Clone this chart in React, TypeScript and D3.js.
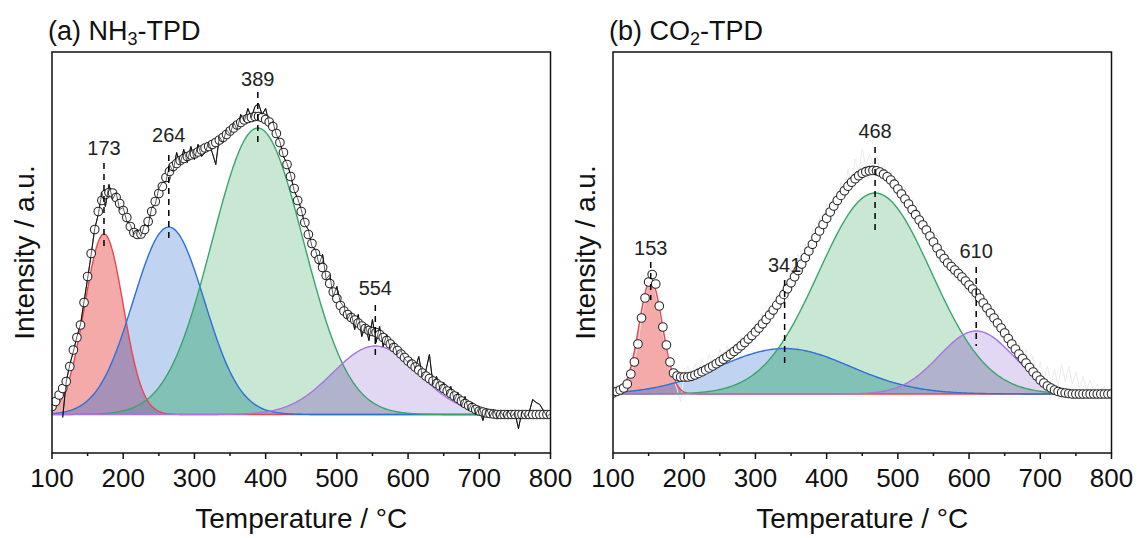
import React from "react";
import * as d3 from "d3";

const FONT = "'Liberation Sans', Arial, Helvetica, sans-serif";

// Temperature grid of the measured points (°C)
const tStart = 100;
const tStep = 5;

// ---------- (a) NH3-TPD ----------
// fitted Gaussian components: center °C, height a.u., sigma °C
const peakCentersA = [173, 264, 389, 554];
const peakHeightsA = [180.5, 187.5, 286.5, 68.5];
const peakWidthsA = [27, 50, 64, 60];
// cumulative fit (open circles) from 100 to 800 °C every 5 °C
const envelopeA = [
  8, 13, 19.5, 26, 33, 48, 64.5, 77, 89.5, 112, 138, 161, 185, 203, 214, 220, 222, 221.5, 217, 211,
  204, 197, 188, 182, 180, 180.5, 185, 193, 203, 213, 221, 228, 237, 243, 248, 251, 254, 256, 258, 259.5,
  260.5, 262.5, 264.5, 266.5, 268, 270, 272, 274.5, 277, 280, 283.5, 286.5, 289.5, 292, 294.5, 296, 297, 298, 298, 297,
  295, 292.5, 288, 281, 272, 262, 250, 238, 226, 214, 203, 192, 180, 171, 161, 155, 147, 139, 131, 122.5,
  116, 109, 103.5, 100, 97, 94.5, 91.5, 88.5, 86, 84, 83, 82, 80, 77, 74, 70.5, 67, 64, 60.5, 57,
  53.5, 50.5, 47.5, 44.5, 41.5, 38.5, 36, 33.5, 31, 28.5, 26, 23.5, 21, 18.5, 16, 13.5, 11, 9, 7, 5,
  3.5, 2.5, 1.5, 1, 0.5, 0, 0, 0, 0, 0, 0, 0, 0, 0, 0, 0, 0, 0, 0, 0, 0,
];
// raw signal (black line) from 115 to 800 °C every 5 °C
const rawStartA = 115;
const rawA = [
  -3, 33, 50, 63, 78, 90, 113, 136, 160, 186, 200, 222, 208, 230, 215, 222, 205, 207, 193, 190,
  180, 185, 178, 190, 188, 207, 210, 226, 232, 233, 250, 243, 262, 250, 265, 252, 268, 255, 270, 258,
  262, 272, 262, 250, 278, 272, 285, 280, 292, 285, 300, 293, 306, 297, 308, 311, 300, 306, 290, 293,
  280, 273, 258, 251, 240, 224, 216, 205, 190, 185, 168, 165, 150, 160, 135, 140, 118, 128, 112, 108,
  95, 102, 85, 100, 78, 90, 74, 95, 72, 88, 68, 80, 66, 72, 60, 64, 56, 52, 55, 46,
  58, 38, 44, 60, 30, 38, 25, 32, 20, 28, 14, 22, 8, 18, 4, 12, 0, 8, -6, 6,
  -2, 5, -4, 3, -3, 4, -2, 2, -14, 3, -3, 2, 15, 12, 10, 4, -2, 1,
];
const labelYA = [259.5, 272.5, 328.5, 119.5];
const dashTopA = [251.5, 259.5, 322.5, 109.5];
const dashBottomA = [164.5, 174.5, 271.5, 57.5];

// ---------- (b) CO2-TPD ----------
const peakCentersB = [153, 341, 468, 610];
const peakHeightsB = [113.5, 45.5, 201, 63];
const peakWidthsB = [16.5, 92, 79, 52];
const envelopeB = [
  1, 2.5, 4, 6, 10, 20, 32, 50, 76, 96, 112, 119.5, 110, 88, 67, 49, 32, 21, 18, 17,
  17, 17, 17.7, 19, 20.6, 22.3, 24.1, 26, 28, 30.2, 32.4, 34.8, 37.2, 39.8, 42.5, 45.3, 48.3, 51.5, 54.9, 58.4,
  62.1, 66, 70.2, 74.5, 79.1, 83.9, 88.9, 94.2, 99.6, 105.3, 111.2, 117.3, 123.5, 129.9, 136.4, 143, 149.7, 156.4, 163, 169.5,
  175.8, 182, 188, 193.5, 198.6, 203.3, 207.8, 211.8, 215.3, 218.3, 220.7, 222.3, 223.3, 223.6, 223.2, 221.9, 219.8, 217.2, 214, 209.8,
  205, 200, 195, 190, 184.5, 179.3, 174, 169, 164, 158, 152, 146, 140, 135.5, 131, 127.5, 124, 120.5, 117, 113,
  109, 105, 101, 96, 91, 86, 81, 76, 71, 66, 61, 55.5, 50, 45, 40, 35.5, 31, 26.5, 22, 18,
  14, 11, 8, 6, 4, 2.5, 1.5, 1, 0.5, 0, 0, 0, 0, 0, 0, 0, 0, 0, 0, 0, 0,
];
const rawStartB = 120;
const rawB = [
  12, 18, 35, 48, 78, 94, 115, 117, 100, 85, 60, 45, 25, 15, 5, -8, 20, 28, 15, 30,
  22, 35, 26, 40, 30, 25, 45, 33, 48, 36, 50, 40, 58, 47, 62, 52, 72, 60, 80, 68,
  90, 75, 100, 86, 110, 98, 125, 108, 140, 120, 150, 135, 165, 148, 178, 160, 190, 175, 200, 188,
  212, 200, 225, 210, 235, 222, 245, 226, 240, 230, 238, 224, 230, 215, 225, 205, 212, 195, 205, 185,
  195, 172, 185, 160, 175, 152, 165, 140, 150, 128, 140, 118, 130, 110, 122, 100, 112, 92, 105, 85,
  95, 76, 88, 66, 78, 55, 68, 45, 58, 38, 52, 30, 45, 22, 38, 18, 32, 14, 28, 10,
  25, 8, 30, 12, 28, 10, 22, 6, 18, 4, 14, 2, 10, 0, 8, -2, 5,
];
const labelYB = [139, 122, 256, 136];
const dashTopB = [132, 114, 247, 127];
const dashBottomB = [94, 31, 162, 48];

const xTicks = d3.range(100, 801, 50);
const peakStroke = ["#e8474c", "#2f6fd8", "#3aa56b", "#a874e0"];
const peakFill = ["#f5aaaa", "#c0d4f2", "#c8e8d4", "#e3d8f3"];
// colours where components overlap (sets of component indices)
const overlapSets = [[0, 1], [0, 2], [1, 2], [1, 3], [2, 3], [0, 3], [0, 1, 2], [1, 2, 3]];
const overlapFill = ["#a891b6", "#9c97ac", "#82c1b6", "#aaaadc", "#b1b3cd", "#c2a6c8", "#8e8faa", "#94a6c2"];

type PanelProps = {
  id: string;
  left: number;
  letter: string;
  mol1: string;
  sub: string;
  baseline: number; // pixel row of zero intensity
  centers: number[];
  heights: number[];
  widths: number[];
  envelope: number[];
  raw: number[];
  rawStart: number;
  rawColor: string;
  labelY: number[];
  dashTop: number[];
  dashBottom: number[];
};

const PLOT_W = 498.5;
const TOP = 52;
const BOTTOM = 453;

function Panel(p: PanelProps) {
  const x = d3.scaleLinear().domain([100, 800]).range([p.left, p.left + PLOT_W]);
  const y = d3
    .scaleLinear()
    .domain([p.baseline - BOTTOM, p.baseline - TOP])
    .range([BOTTOM, TOP]);
  const grid = d3.range(100, 800.01, 2);
  const gauss = (i: number, t: number) =>
    p.heights[i] * Math.exp(-0.5 * Math.pow((t - p.centers[i]) / p.widths[i], 2));
  const areaOf = (set: number[]) =>
    d3
      .area<number>()
      .x((t) => x(t))
      .y0(y(0))
      .y1((t) => y(d3.min(set, (i) => gauss(i, t)) as number))(grid) as string;
  const line = (i: number) =>
    d3
      .line<number>()
      .x((t) => x(t))
      .y((t) => y(gauss(i, t)))(grid) as string;
  const rawLine = d3
    .line<number>()
    .x((_, k) => x(p.rawStart + k * tStep))
    .y((v) => y(v))(p.raw) as string;
  const clipId = `clip-${p.id}`;
  return (
    <g>
      <defs>
        <clipPath id={clipId}>
          <rect x={p.left} y={TOP} width={PLOT_W} height={BOTTOM - TOP} />
        </clipPath>
      </defs>
      <g clipPath={`url(#${clipId})`}>
        {p.centers.map((_, i) => (
          <path key={`f${i}`} d={areaOf([i])} fill={peakFill[i]} />
        ))}
        {overlapSets.map((s, k) => (
          <path key={`o${k}`} d={areaOf(s)} fill={overlapFill[k]} />
        ))}
        {p.id === "b" && <path d={rawLine} fill="none" stroke={p.rawColor} strokeWidth={1} />}
        {p.centers.map((_, i) => (
          <path key={`l${i}`} d={line(i)} fill="none" stroke={peakStroke[i]} strokeWidth={1.4} />
        ))}
        {p.id === "a" && <path d={rawLine} fill="none" stroke="#111" strokeWidth={1} />}
        {p.envelope.map((v, k) => (
          <circle
            key={`c${k}`}
            cx={x(tStart + k * tStep)}
            cy={y(v)}
            r={4.3}
            fill="#fff"
            stroke="#2a2a2a"
            strokeWidth={1.1}
          />
        ))}
        {p.id === "a" && (
          <path d={rawLine} fill="none" stroke="#111" strokeWidth={0.9} strokeOpacity={0.75} />
        )}
      </g>
      {p.centers.map((c, i) => (
        <g key={`lab${i}`}>
          <line
            x1={x(c)}
            x2={x(c)}
            y1={y(p.dashTop[i])}
            y2={y(p.dashBottom[i])}
            stroke="#000"
            strokeWidth={1.5}
            strokeDasharray="6,5"
          />
          <text
            x={x(c)}
            y={y(p.labelY[i])}
            textAnchor="middle"
            fontFamily={FONT}
            fontSize={20}
            fill="#222"
          >
            {c}
          </text>
        </g>
      ))}
      <rect
        x={p.left}
        y={TOP}
        width={PLOT_W}
        height={BOTTOM - TOP}
        fill="none"
        stroke="#111"
        strokeWidth={1.5}
      />
      {xTicks.map((t) => (
        <line
          key={`t${t}`}
          x1={x(t)}
          x2={x(t)}
          y1={BOTTOM}
          y2={BOTTOM + (t % 100 === 0 ? 6 : 3)}
          stroke="#111"
          strokeWidth={1.5}
        />
      ))}
      {xTicks
        .filter((t) => t % 100 === 0)
        .map((t) => (
          <text
            key={`tl${t}`}
            x={x(t)}
            y={487}
            textAnchor="middle"
            fontFamily={FONT}
            fontSize={26}
            fill="#111"
          >
            {t}
          </text>
        ))}
      <text
        x={p.left + PLOT_W / 2}
        y={528}
        textAnchor="middle"
        fontFamily={FONT}
        fontSize={28}
        fill="#111"
      >
        Temperature / °C
      </text>
      <text
        transform={`translate(${p.left - 18},${(TOP + BOTTOM) / 2}) rotate(-90)`}
        textAnchor="middle"
        fontFamily={FONT}
        fontSize={28}
        fill="#111"
      >
        Intensity / a.u.
      </text>
      <text x={p.left - 4} y={40} fontFamily={FONT} fontSize={27} fill="#111">
        {`(${p.letter}) ${p.mol1}`}
        <tspan dy={5} fontSize={18}>
          {p.sub}
        </tspan>
        <tspan dy={-5}>-TPD</tspan>
      </text>
    </g>
  );
}

export default function App() {
  return (
    <svg
      width={1140}
      height={538}
      style={{ position: "absolute", left: 0, top: 0, background: "#fff" }}
    >
      <rect width={1140} height={538} fill="#fff" />
      <Panel
        id="a"
        left={52}
        letter="a"
        mol1="NH"
        sub="3"
        baseline={414.5}
        centers={peakCentersA}
        heights={peakHeightsA}
        widths={peakWidthsA}
        envelope={envelopeA}
        raw={rawA}
        rawStart={rawStartA}
        rawColor="#111"
        labelY={labelYA}
        dashTop={dashTopA}
        dashBottom={dashBottomA}
      />
      <Panel
        id="b"
        left={613}
        letter="b"
        mol1="CO"
        sub="2"
        baseline={394}
        centers={peakCentersB}
        heights={peakHeightsB}
        widths={peakWidthsB}
        envelope={envelopeB}
        raw={rawB}
        rawStart={rawStartB}
        rawColor="#ececec"
        labelY={labelYB}
        dashTop={dashTopB}
        dashBottom={dashBottomB}
      />
    </svg>
  );
}
